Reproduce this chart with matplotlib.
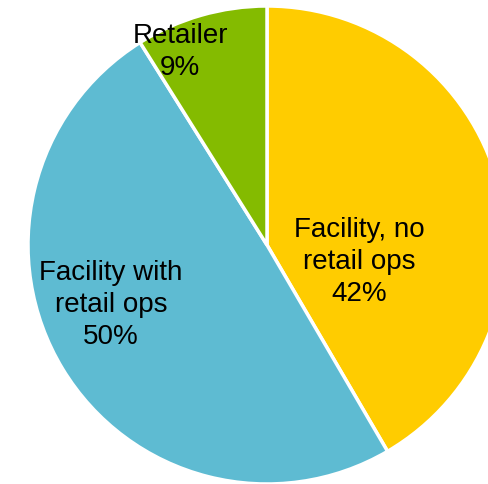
import matplotlib
matplotlib.use("Agg")
import matplotlib.pyplot as plt

# Share of respondents by business type
categories = ["Facility, no\nretail ops", "Facility with\nretail ops", "Retailer"]
shares = [42, 50, 9]
colors = ["#FFCC00", "#5EBBD2", "#84BB00"]

plt.rcParams["font.family"] = ["Liberation Sans", "DejaVu Sans"]

fig = plt.figure(figsize=(4.88, 4.85), dpi=100)
ax = fig.add_axes([28 / 488, 0.0, 478 / 488, 478 / 485])

wedges, _ = ax.pie(
    shares,
    colors=colors,
    startangle=90,
    counterclock=False,
    radius=1.0,
    wedgeprops=dict(edgecolor="white", linewidth=2.5),
)
ax.set_xlim(-1, 1)
ax.set_ylim(-1, 1)
ax.set_aspect("auto")
ax.axis("off")

label_pos = [(0.385, -0.068), (-0.652, -0.245), (-0.364, 0.812)]
for name, val, (x, y) in zip(categories, shares, label_pos):
    ax.text(x, y, f"{name}\n{val}%", ha="center", va="center",
            fontsize=20, linespacing=1.3, color="black")

fig.savefig("out.png", dpi=100)
